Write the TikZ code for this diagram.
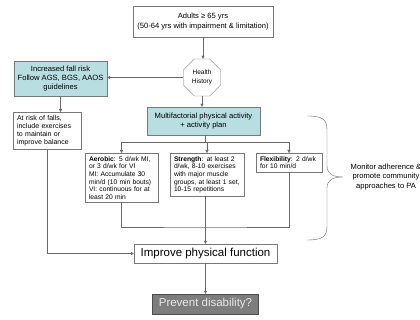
\documentclass[tikz,border=0pt]{standalone}
\usepackage{fontspec}
\setmainfont{Liberation Sans}
\usetikzlibrary{arrows.meta}
\definecolor{boxgray}{RGB}{120,120,120}
\definecolor{linegray}{RGB}{105,105,105}
\definecolor{fallblue}{RGB}{184,222,226}
\definecolor{prevgray}{RGB}{125,125,125}
\definecolor{prevtext}{RGB}{232,232,232}

\begin{document}
\begin{tikzpicture}[x=1pt,y=-1pt,
    box/.style={draw=boxgray,fill=white,align=center,inner sep=2pt,
        font=\fontsize{7.6}{9.3}\selectfont},
    small/.style={align=left,inner xsep=4pt,inner ysep=3pt,
        font=\fontsize{6.7}{7.7}\selectfont},
    big/.style={font=\fontsize{11.5}{13}\selectfont},
    line/.style={draw=linegray,thin},
    arr/.style={line,-{Triangle[length=3pt,width=3pt]}}]
    \path [use as bounding box] (0,0) rectangle (420,320);
    \node [box,minimum width=140pt,minimum height=31pt] (adults) at (203,21.5)
        {Adults ≥ 65 yrs\\(50-64 yrs with impairment \& limitation)};
    \node [circle,minimum size=37pt,inner sep=0pt,align=center,
        font=\fontsize{6.5}{8.5}\selectfont] (health) at (202,77.5) {Health\\History};
    \draw[boxgray] (health.center) +(22.5:20) -- +(67.5:20) -- +(112.5:20) -- +(157.5:20)
        -- +(202.5:20) -- +(247.5:20) -- +(292.5:20) -- +(337.5:20) -- cycle;
    \node [box,fill=fallblue,minimum width=93pt,minimum height=35pt] (fall) at (60.5,78.5)
        {Increased fall risk\\Follow AGS, BGS, AAOS\\guidelines};
    \node [box,small,text width=60pt,anchor=north,font=\fontsize{7}{8.2}\selectfont] (balance) at (47,112)
        {At risk of falls,\\include exercises\\to maintain or\\improve balance};
    \node [box,fill=fallblue,minimum width=113pt,minimum height=28pt] (multi) at (203.5,121)
        {Multifactorial physical activity\\+ activity plan};
    \node [box,small,text width=65pt,anchor=north] (aerobic) at (121.5,153)
        {\textbf{Aerobic}: 5 d/wk MI,\\or 3 d/wk for VI\\MI: Accumulate 30\\min/d (10 min bouts)\\VI: continuous for at\\least 20 min};
    \node [box,small,text width=66pt,anchor=north] (strength) at (207,153)
        {\textbf{Strength}: at least 2\\d/wk, 8-10 exercises\\with major muscle\\groups, at least 1 set,\\10-15 repetitions};
    \node [box,small,text width=58pt,anchor=north] (flex) at (289,153)
        {\textbf{Flexibility}: 2 d/wk\\for 10 min/d};
    \node [box,big,minimum width=143pt,minimum height=19pt,inner sep=1pt] (improve) at (205.5,253.5)
        {Improve physical function};
    \node [box,big,draw=gray!60!black,fill=prevgray,text=prevtext,minimum width=106pt,
        minimum height=20pt,inner sep=1pt] (prevent) at (205.5,304) {Prevent disability?};
    \node [align=center,font=\fontsize{7.6}{9.8}\selectfont] (monitor) at (386,177)
        {Monitor adherence \&\\promote community\\approaches to PA};
    \coordinate (split) at (205.5,142);
    \coordinate (merge) at (205.5,227);
    \draw[arr] (adults.south) -- (adults.south |- health.north);
    \draw[arr] (health.west) -- (health.west -| fall.east);
    \draw[arr] (fall.south) -- (fall.south |- balance.north);
    \draw[arr] (health.south) -- (health.south |- multi.north);
    \draw[line] (multi.south -| split) -- (split);
    \foreach \b in {aerobic,strength,flex}
        \draw[arr] (split) -| (\b.north);
    \draw[line] (aerobic.south) |- (merge) -| (flex.south);
    \draw[arr] (strength.south -| merge) -- (merge |- improve.north);
    \draw[arr] (balance.south) |- (improve.west);
    \draw[arr] (improve.south) -- (improve.south |- prevent.north);
    \draw[line] (307,116) .. controls (322,116) and (327,119) .. (327,130) -- (327,166)
        .. controls (327,174) and (333,177) .. (343,177)
        .. controls (333,177) and (327,180) .. (327,188) -- (327,226)
        .. controls (327,237) and (322,240) .. (307,240);
\end{tikzpicture}
\end{document}
